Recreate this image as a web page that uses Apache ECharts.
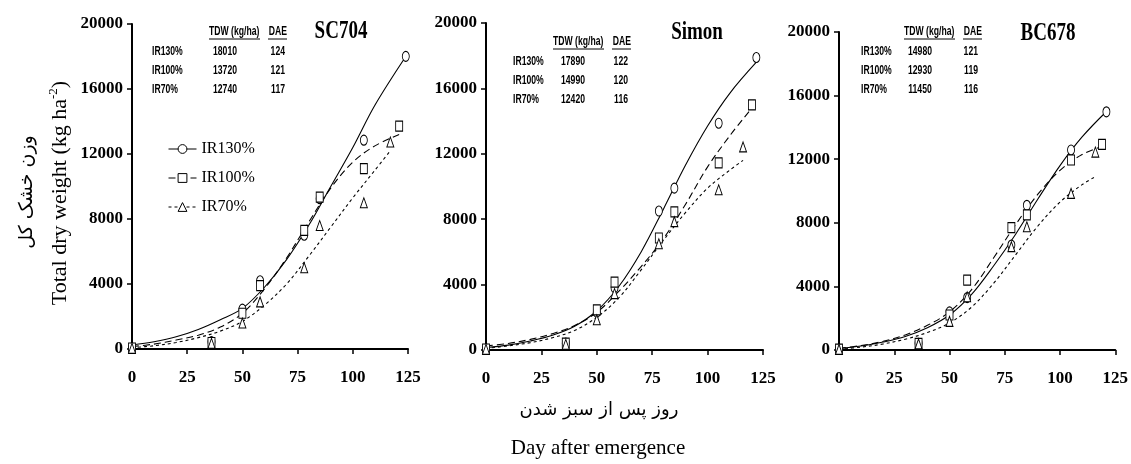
<!DOCTYPE html>
<html><head><meta charset="utf-8">
<script src="https://cdn.jsdelivr.net/npm/echarts@6/dist/echarts.min.js"></script>
<style>html,body{margin:0;padding:0;background:#fff}#c{width:1131px;height:464px}</style>
</head><body><div id="c"></div>
<script>
// ---------------- data ----------------
const CULTIVARS = ['SC704', 'Simon', 'BC678'];
const TREATMENTS = ['IR130%', 'IR100%', 'IR70%'];
const X_TICKS = [0, 25, 50, 75, 100, 125];
const Y_TICKS = [0, 4000, 8000, 12000, 16000, 20000];

// table values (TDW kg/ha and DAE), per cultivar, order IR130, IR100, IR70
const SC704_TDW = [18010, 13720, 12740];
const SC704_DAE = [124, 121, 117];
const SIMON_TDW = [17890, 14990, 12420];
const SIMON_DAE = [122, 120, 116];
const BC678_TDW = [14980, 12930, 11450];
const BC678_DAE = [121, 119, 116];

// observed sampling days (last point is at the DAE of each treatment)
const OBS_DAYS = [0, 36, 50, 58, 78, 85, 105];
const SC704_OBS_IR130 = [60, 450, 2450, 4200, 7000, 9250, 12850, 18010];
const SC704_OBS_IR100 = [60, 400, 2200, 3900, 7300, 9350, 11100, 13720];
const SC704_OBS_IR70  = [40, 350, 1600, 2900, 5000, 7600, 9000, 12740];
const SIMON_OBS_IR130 = [60, 420, 2300, 3800, 8500, 9900, 13870, 17890];
const SIMON_OBS_IR100 = [60, 420, 2450, 4150, 6850, 8450, 11450, 14990];
const SIMON_OBS_IR70  = [40, 350, 1850, 3450, 6500, 7850, 9800, 12420];
const BC678_OBS_IR130 = [60, 420, 2400, 3300, 6600, 9100, 12580, 14980];
const BC678_OBS_IR100 = [60, 420, 2200, 4400, 7700, 8500, 11950, 12930];
const BC678_OBS_IR70  = [40, 380, 1800, 3350, 6500, 7750, 9850, 12450];

// fitted curves (last point at the DAE)
const FIT_DAYS = [0, 10, 20, 30, 40, 50, 60, 70, 80, 90, 100, 110];
const SC704_FIT_IR130 = [250, 450, 750, 1200, 1800, 2500, 3800, 5500, 7600, 10000, 12400, 15000, 18000];
const SC704_FIT_IR100 = [150, 300, 550, 850, 1350, 2200, 3700, 5600, 7800, 9900, 11500, 12500, 13200];
const SC704_FIT_IR70  = [80, 200, 400, 700, 1100, 1700, 2700, 4000, 5700, 7500, 9300, 11000, 12200];
const SIMON_FIT_IR130 = [150, 300, 550, 900, 1450, 2400, 3900, 6000, 8600, 11300, 13700, 15700, 17600];
const SIMON_FIT_IR100 = [250, 400, 650, 1000, 1500, 2300, 3600, 5100, 6800, 8900, 11200, 13100, 14800];
const SIMON_FIT_IR70  = [100, 250, 450, 750, 1200, 2000, 3200, 4900, 6700, 8400, 9900, 11000, 11600];
const BC678_FIT_IR130 = [100, 250, 500, 850, 1400, 2200, 3500, 5300, 7300, 9500, 11600, 13400, 15000];
const BC678_FIT_IR100 = [100, 280, 550, 950, 1550, 2400, 3800, 5800, 7900, 9800, 11300, 12300, 12800];
const BC678_FIT_IR70  = [50, 180, 380, 680, 1100, 1700, 2700, 4200, 6000, 7800, 9300, 10400, 10900];

// --------------- assembly ---------------
const PANELS = [
  {dae: SC704_DAE, tdw: SC704_TDW, obs: [SC704_OBS_IR130, SC704_OBS_IR100, SC704_OBS_IR70], fit: [SC704_FIT_IR130, SC704_FIT_IR100, SC704_FIT_IR70]},
  {dae: SIMON_DAE, tdw: SIMON_TDW, obs: [SIMON_OBS_IR130, SIMON_OBS_IR100, SIMON_OBS_IR70], fit: [SIMON_FIT_IR130, SIMON_FIT_IR100, SIMON_FIT_IR70]},
  {dae: BC678_DAE, tdw: BC678_TDW, obs: [BC678_OBS_IR130, BC678_OBS_IR100, BC678_OBS_IR70], fit: [BC678_FIT_IR130, BC678_FIT_IR100, BC678_FIT_IR70]}
];
const GRIDS = [
  {left: 132, top: 24, width: 276, height: 325},
  {left: 486, top: 23, width: 277, height: 327},
  {left: 839, top: 32, width: 279, height: 318}
];
const SYMBOLS = ['circle', 'rect', 'triangle'];
const DASHES = ['solid', [7, 4], [3, 3]];
const SERIF = "'Liberation Serif','Times New Roman',serif";
const SANS = "'Liberation Sans',Arial,sans-serif";

const xAxes = [], yAxes = [], series = [];
GRIDS.forEach((g, p) => {
  xAxes.push({
    gridIndex: p, type: 'value', min: X_TICKS[0], max: X_TICKS[X_TICKS.length - 1], interval: X_TICKS[1] - X_TICKS[0],
    axisLine: {onZero: false, lineStyle: {color: '#000', width: 2}},
    axisTick: {show: true, inside: false, length: 5, lineStyle: {color: '#000', width: 1.5}},
    axisLabel: {margin: 20, color: '#000', fontSize: 17, fontWeight: 'bold', fontFamily: SERIF, formatter: v => String(v)},
    splitLine: {show: false}
  });
  yAxes.push({
    gridIndex: p, type: 'value', min: Y_TICKS[0], max: Y_TICKS[Y_TICKS.length - 1], interval: Y_TICKS[1] - Y_TICKS[0],
    axisLine: {show: true, onZero: false, lineStyle: {color: '#000', width: 2}},
    axisTick: {show: true, inside: false, length: 5, lineStyle: {color: '#000', width: 1.5}},
    axisLabel: {margin: 9, color: '#000', fontSize: 17, fontWeight: 'bold', fontFamily: SERIF, formatter: v => String(v)},
    splitLine: {show: false}
  });
});
// curves first (legend takes its icon from them)
PANELS.forEach((pn, p) => {
  TREATMENTS.forEach((t, i) => {
    const days = FIT_DAYS.concat([pn.dae[i]]);
    series.push({
      type: 'line', name: t, xAxisIndex: p, yAxisIndex: p,
      data: days.map((d, k) => [d, pn.fit[i][k]]),
      smooth: 0.35, showSymbol: false, symbol: SYMBOLS[i], silent: true, z: 2,
      itemStyle: {color: '#fff', borderColor: '#000', borderWidth: 1},
      lineStyle: {color: '#000', width: 1.1, type: DASHES[i]}
    });
  });
});
PANELS.forEach((pn, p) => {
  TREATMENTS.forEach((t, i) => {
    const days = OBS_DAYS.concat([pn.dae[i]]);
    series.push({
      type: 'scatter', name: t, xAxisIndex: p, yAxisIndex: p,
      data: days.map((d, k) => [d, pn.obs[i][k]]),
      symbol: SYMBOLS[i], symbolSize: [7, 10], z: 3, silent: true,
      itemStyle: {color: '#fff', borderColor: '#000', borderWidth: 1, opacity: 1}
    });
  });
});

// ------------- graphic texts -------------
const graphic = [];
const TITLE_POS = [[341, 31], [697, 32], [1048, 33]];
CULTIVARS.forEach((c, p) => {
  graphic.push({type: 'text', x: TITLE_POS[p][0], y: TITLE_POS[p][1], scaleY: 1.35,
    style: {text: c, fill: '#000', font: "bold 19px " + SERIF, align: 'center', verticalAlign: 'middle'}});
});
// table layout: [headerY, tdwLeft, daeRight, rowLabelLeft, valueCenter, rowDaeRight, rowY0, rowStep]
const TABLE_POS = [
  [31, 209, 287, 152, 225, 285, 51, 19],
  [41, 553, 631, 513, 573, 628, 61, 19],
  [31, 904, 982, 861, 920, 978, 51, 19]
];
const tfont = "bold 13.5px " + SANS;
const SX = 0.64;
function ttext(x, y, text, align) {
  return {type: 'text', x: x, y: y, scaleX: SX, style: {text: text, font: tfont, fill: '#000', align: align, verticalAlign: 'middle'}};
}
PANELS.forEach((pn, p) => {
  const L = TABLE_POS[p];
  graphic.push(ttext(L[1], L[0], 'TDW (kg/ha)', 'left'));
  graphic.push(ttext(L[2], L[0], 'DAE', 'right'));
  graphic.push({type: 'line', shape: {x1: L[1], y1: L[0] + 8, x2: L[1] + 51, y2: L[0] + 8}, style: {stroke: '#000', lineWidth: 1}});
  graphic.push({type: 'line', shape: {x1: L[2] - 19, y1: L[0] + 8, x2: L[2], y2: L[0] + 8}, style: {stroke: '#000', lineWidth: 1}});
  TREATMENTS.forEach((t, i) => {
    const y = L[6] + i * L[7];
    graphic.push(ttext(L[3], y, t, 'left'));
    graphic.push(ttext(L[4], y, String(pn.tdw[i]), 'center'));
    graphic.push(ttext(L[5], y, String(pn.dae[i]), 'right'));
  });
});
// axis titles
graphic.push({type: 'text', x: 60, y: 193, rotation: Math.PI / 2,
  style: {text: 'Total dry weight (kg ha{sup|-2})', font: "22px " + SERIF, fill: '#000', align: 'center', verticalAlign: 'middle',
    lineHeight: 26, rich: {sup: {fontSize: 13, fontFamily: SERIF, verticalAlign: 'top', lineHeight: 26}}}});
graphic.push({type: 'text', x: 27, y: 192, rotation: Math.PI / 2,
  style: {text: 'وزن خشک کل', font: "19px 'DejaVu Sans', sans-serif", fill: '#000', align: 'center', verticalAlign: 'middle'}});
graphic.push({type: 'text', x: 599, y: 410,
  style: {text: 'روز پس از سبز شدن', font: "18px 'DejaVu Sans', sans-serif", fill: '#000', align: 'center', verticalAlign: 'middle'}});
graphic.push({type: 'text', x: 598, y: 448,
  style: {text: 'Day after emergence', font: "21px " + SERIF, fill: '#000', align: 'center', verticalAlign: 'middle'}});

const chart = echarts.init(document.getElementById('c'), null, {renderer: 'canvas'});
chart.setOption({
  animation: false,
  backgroundColor: '#fff',
  grid: GRIDS.map(g => Object.assign({containLabel: false}, g)),
  xAxis: xAxes, yAxis: yAxes, series: series,
  legend: {
    data: TREATMENTS, left: 163, top: 136, orient: 'vertical',
    itemWidth: 28, itemHeight: 11, itemGap: 13, selectedMode: false,
    textStyle: {fontSize: 16, fontFamily: SERIF, color: '#000'},
    itemStyle: {color: '#fff', borderColor: '#000', borderWidth: 1},
    lineStyle: {color: '#000', width: 1}
  },
  graphic: graphic
});
</script></body></html>
